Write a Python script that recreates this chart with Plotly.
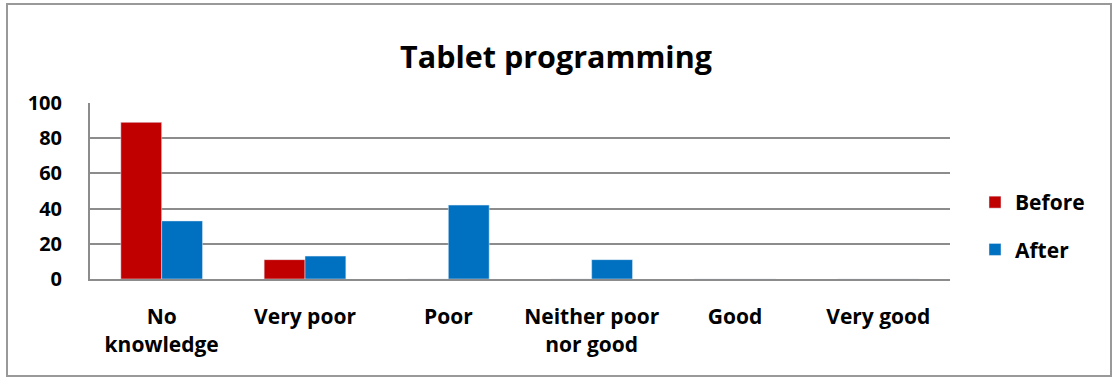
import plotly.graph_objects as go

categories = ["No<br>knowledge", "Very poor", "Poor", "Neither poor<br>nor good", "Good", "Very good"]
before = [89, 11, 0, 0, 0, 0]
after = [33, 13, 42, 11, 0, 0]
y_ticks = [0, 20, 40, 60, 80, 100]

FONT = "Open Sans"
W, H = 1112, 378
L, R, T, B = 90, 162, 103, 99
pw, ph = W - L - R, H - T - B

fig = go.Figure()
fig.add_trace(go.Bar(x=categories, y=before, name="Before", marker_color="#C00000",
                     legendgroup="b"))
fig.add_trace(go.Bar(x=categories, y=after, name="After", marker_color="#0070C0",
                     legendgroup="a"))

def px2paper_x(px):
    return (px - L) / pw

def px2paper_y(py):
    return (H - B - py) / ph

fig.update_layout(
    width=W, height=H,
    margin=dict(l=L, r=R, t=T, b=B),
    paper_bgcolor="white", plot_bgcolor="white",
    barmode="group", bargap=0.43, bargroupgap=0,
    title=dict(text="Tablet programming", x=0.5, xanchor="center", xref="container",
               y=1 - 57 / H, yanchor="middle", yref="container",
               font=dict(family=FONT, size=30.5, color="black", weight="bold")),
    legend=dict(x=px2paper_x(975), xanchor="left", y=px2paper_y(182), yanchor="top",
                traceorder="grouped", tracegroupgap=17,
                font=dict(family=FONT, size=21, color="black", weight="bold")),
    xaxis=dict(showgrid=False, showline=True, linecolor="#8c8c8c", linewidth=2,
               ticks="", ticklabelstandoff=18,
               tickfont=dict(family=FONT, size=21, color="black", weight="bold")),
    yaxis=dict(range=[0, 100], tickvals=y_ticks, showgrid=True, gridcolor="#8c8c8c",
               gridwidth=2, showline=True, linecolor="#8c8c8c", linewidth=2,
               zeroline=False, ticks="", ticklabelstandoff=22,
               tickfont=dict(family=FONT, size=20, color="black", weight="bold")),
    shapes=[dict(type="rect", xref="paper", yref="paper",
                 x0=px2paper_x(7), x1=px2paper_x(1111), y0=px2paper_y(376), y1=px2paper_y(4),
                 line=dict(color="#999999", width=2), fillcolor="rgba(0,0,0,0)", layer="below")],
)

fig.write_html("out.html")
